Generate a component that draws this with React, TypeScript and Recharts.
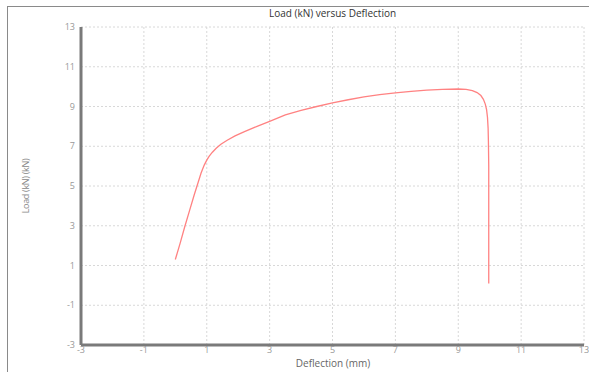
import React from "react";
import { LineChart, Line, XAxis, YAxis, CartesianGrid } from "recharts";

const deflection = [
  0.0, 0.15, 0.3, 0.45, 0.6, 0.72, 0.82, 0.92, 1.0, 1.08, 1.18, 1.3, 1.45, 1.65,
  1.9, 2.2, 2.6, 3.0, 3.5, 4.0, 4.5, 5.0, 5.5, 6.0, 6.5, 7.0, 7.5, 8.0, 8.5,
  9.0, 9.25, 9.45, 9.6, 9.72, 9.8, 9.86, 9.9, 9.93, 9.95, 9.96, 9.97, 9.97,
];
const load = [
  1.3, 2.1, 2.95, 3.75, 4.55, 5.15, 5.65, 6.05, 6.3, 6.5, 6.7, 6.9, 7.1,
  7.3, 7.52, 7.74, 8.0, 8.25, 8.58, 8.8, 9.0, 9.18, 9.34, 9.48, 9.6, 9.69,
  9.76, 9.82, 9.86, 9.88, 9.86, 9.8, 9.7, 9.55, 9.36, 9.12, 8.85, 8.45, 7.9,
  7.2, 6.0, 0.1,
];
const xTicks = [-3, -1, 1, 3, 5, 7, 9, 11, 13];
const yTicks = [-3, -1, 1, 3, 5, 7, 9, 11, 13];

const data = deflection.map((x, i) => ({ x, y: load[i] }));

const FONT = "'Open Sans', 'Noto Sans', sans-serif";

export default function App() {
  return (
    <div
      style={{
        position: "fixed",
        left: 0,
        top: 0,
        width: 589,
        height: 372,
        background: "#fff",
        fontFamily: FONT,
        overflow: "hidden",
      }}
    >
      <div
        style={{
          position: "absolute",
          left: 7,
          top: 6,
          width: 582,
          height: 366,
          borderLeft: "1px solid #8a8a8a",
          borderTop: "1px solid #8a8a8a",
          boxSizing: "border-box",
        }}
      />
      <LineChart
        width={589}
        height={372}
        data={data}
        margin={{ top: 27, right: 5, bottom: 7, left: 41 }}
        style={{ position: "absolute", left: 0, top: 0 }}
      >
        <CartesianGrid stroke="#d8d8d8" strokeDasharray="2 2" />
        <XAxis
          dataKey="x"
          type="number"
          domain={[-3, 13]}
          ticks={xTicks}
          interval={0}
          height={20}
          tickLine={false}
          tickSize={2}
          tickMargin={0}
          axisLine={{ stroke: "#7a7a7a", strokeWidth: 3 }}
          tick={{ fill: "#999", fontSize: 9, fontFamily: FONT }}
        />
        <YAxis
          type="number"
          domain={[-3, 13]}
          ticks={yTicks}
          interval={0}
          width={40}
          tickLine={false}
          tickSize={4}
          tickMargin={2}
          axisLine={{ stroke: "#7a7a7a", strokeWidth: 3 }}
          tick={{ fill: "#999", fontSize: 9, fontFamily: FONT }}
        />
        <Line
          type="linear"
          dataKey="y"
          stroke="#ff8282"
          strokeWidth={1.3}
          dot={false}
          isAnimationActive={false}
        />
      </LineChart>
      <div
        style={{
          position: "absolute",
          left: 0,
          width: 665,
          top: 7,
          textAlign: "center",
          fontSize: 10,
          lineHeight: "12px",
          color: "#333",
          whiteSpace: "nowrap",
        }}
      >
        Load (kN) versus Deflection
      </div>
      <div
        style={{
          position: "absolute",
          left: 0,
          width: 666,
          top: 358,
          textAlign: "center",
          fontSize: 10,
          lineHeight: "11px",
          color: "#666",
          whiteSpace: "nowrap",
        }}
      >
        Deflection (mm)
      </div>
      <div
        style={{
          position: "absolute",
          left: 25,
          top: 186,
          transform: "translate(-50%, -50%) rotate(-90deg)",
          fontSize: 9,
          color: "#888",
          whiteSpace: "nowrap",
          letterSpacing: -0.3,
        }}
      >
        Load (kN) (kN)
      </div>
    </div>
  );
}
